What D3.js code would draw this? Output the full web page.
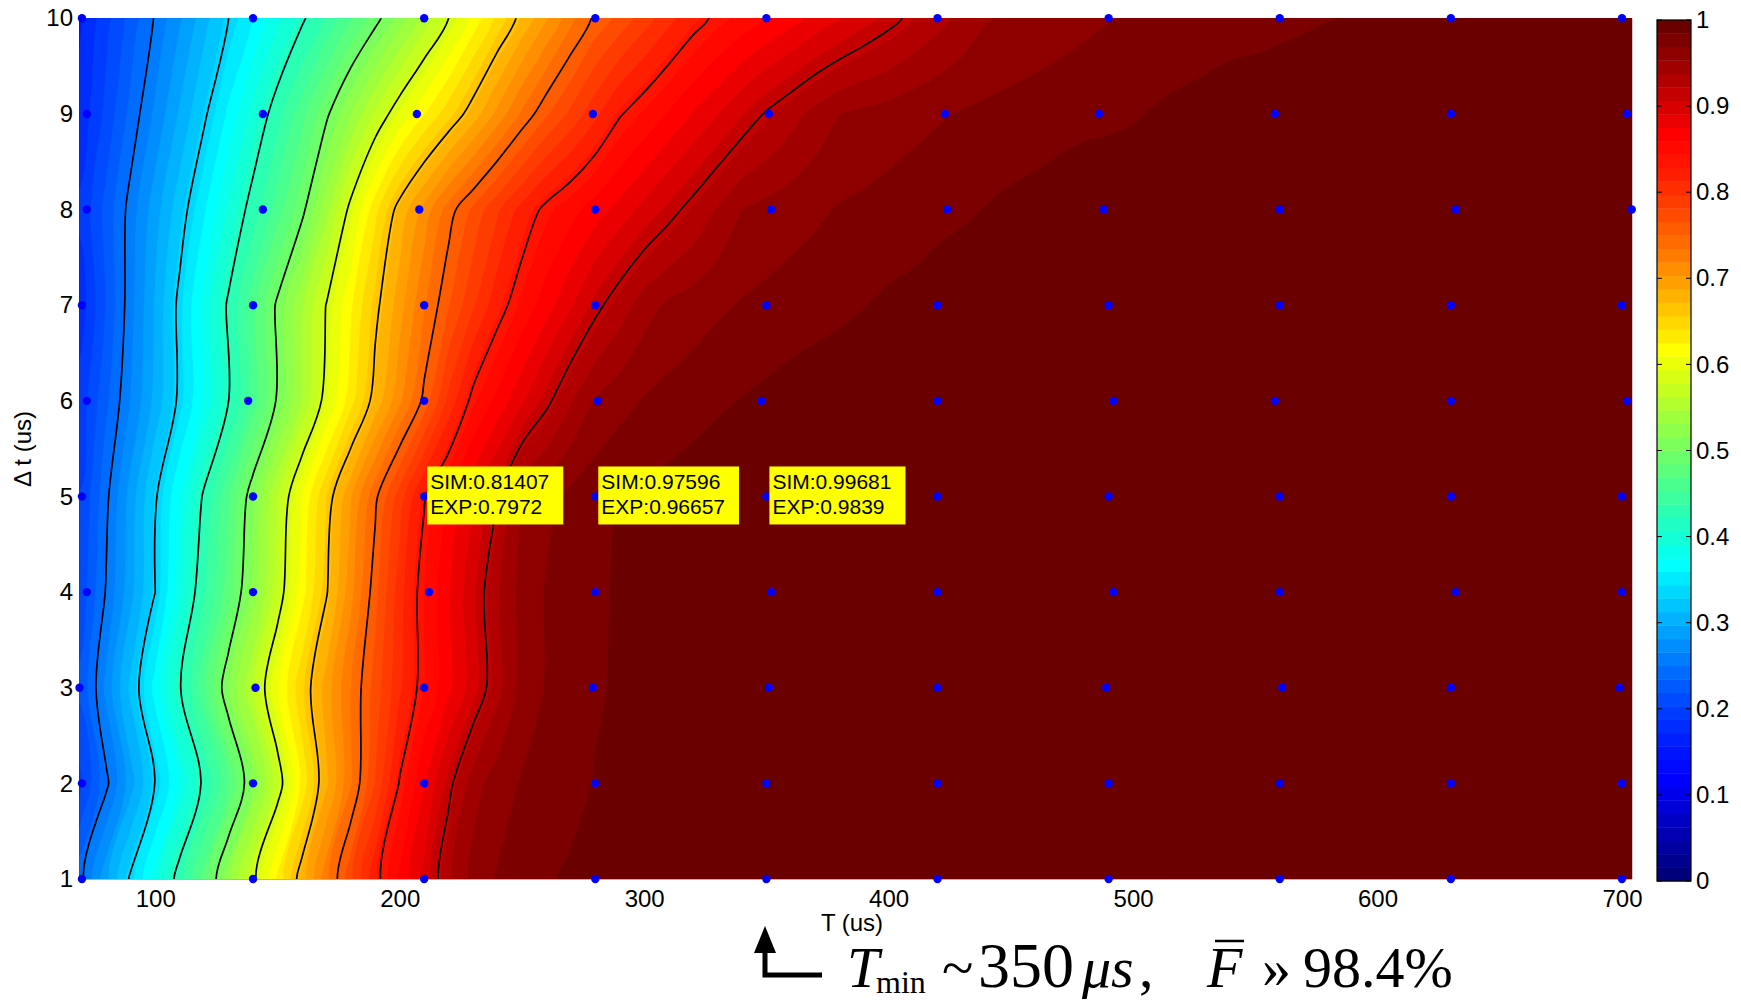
<!DOCTYPE html>
<html>
<head>
<meta charset="utf-8">
<script src="https://cdn.jsdelivr.net/npm/d3@7"></script>
<style>
  body { margin: 0; background: #fff; }
  svg { display: block; font-family: "Liberation Sans", Arial, Helvetica, sans-serif; }
</style>
</head>
<body>
<svg id="chart" width="1741" height="1002"></svg>
<script>
"use strict";

// T (us) columns of the fidelity map, one every 10 us
const T_GRID = [70, 80, 90, 100, 110, 120, 130, 140, 150, 160, 170, 180, 190, 200, 210, 220,
  230, 240, 250, 260, 270, 280, 290, 300, 310, 320, 330, 340, 350, 360, 370, 380,
  390, 400, 410, 420, 430, 440, 450, 460, 470, 480, 490, 500, 510, 520, 530, 540,
  550, 560, 570, 580, 590, 600, 610, 620, 630, 640, 650, 660, 670, 680, 690, 700];

// Δt (us) rows
const DT_GRID = [1, 2, 3, 4, 5, 6, 7, 8, 9, 10];

// fidelity, one list per Δt row (values at T_GRID)
const FID_DT1 = [.247, .292, .337, .382, .428, .476, .525, .577, .628, .678, .728, .777, .825, .862, .896, .933,
  .959, .970, .977, .983, .986, .989, .992, .995, .996, .997, .997, .998, .998, .999, .999, .999,
  .999, .999, .999, .999, .999, .999, .999, .999, .999, .999, .999, .999, .999, .999, .999, .999,
  .999, .999, .999, .999, .999, .999, .999, .999, .999, .999, .999, .999, .999, .999, .999, .999];
const FID_DT2 = [.202, .246, .290, .334, .378, .423, .469, .517, .571, .629, .684, .732, .782, .835, .873, .911,
  .946, .961, .970, .976, .981, .985, .988, .991, .994, .995, .996, .997, .997, .998, .999, .999,
  .999, .999, .999, .999, .999, .999, .999, .999, .999, .999, .999, .999, .999, .999, .999, .999,
  .999, .999, .999, .999, .999, .999, .999, .999, .999, .999, .999, .999, .999, .999, .999, .999];
const FID_DT3 = [.223, .270, .317, .366, .415, .464, .514, .561, .607, .652, .694, .734, .772, .809, .843, .871,
  .899, .932, .959, .970, .977, .983, .986, .990, .992, .995, .996, .996, .997, .998, .998, .999,
  .999, .999, .999, .999, .999, .999, .999, .999, .999, .999, .999, .999, .999, .999, .999, .999,
  .999, .999, .999, .999, .999, .999, .999, .999, .999, .999, .999, .999, .999, .999, .999, .999];
const FID_DT4 = [.211, .252, .292, .333, .387, .435, .477, .522, .571, .618, .665, .713, .760, .805, .844, .873,
  .902, .935, .959, .970, .976, .982, .986, .989, .991, .994, .995, .996, .997, .998, .998, .999,
  .999, .999, .999, .999, .999, .999, .999, .999, .999, .999, .999, .999, .999, .999, .999, .999,
  .999, .999, .999, .999, .999, .999, .999, .999, .999, .999, .999, .999, .999, .999, .999, .999];
const FID_DT5 = [.204, .246, .288, .330, .375, .421, .466, .512, .561, .609, .655, .701, .746, .789, .831, .860,
  .888, .916, .953, .964, .973, .979, .985, .987, .990, .993, .995, .996, .997, .997, .998, .998,
  .999, .999, .999, .999, .999, .999, .999, .999, .999, .999, .999, .999, .999, .999, .999, .999,
  .999, .999, .999, .999, .999, .999, .999, .999, .999, .999, .999, .999, .999, .999, .999, .999];
const FID_DT6 = [.195, .231, .266, .302, .338, .378, .417, .460, .503, .548, .592, .634, .676, .715, .755, .801,
  .840, .864, .888, .912, .936, .955, .963, .970, .974, .978, .982, .985, .988, .991, .994, .995,
  .996, .996, .997, .998, .998, .999, .999, .999, .999, .999, .999, .999, .999, .999, .999, .999,
  .999, .999, .999, .999, .999, .999, .999, .999, .999, .999, .999, .999, .999, .999, .999, .999];
const FID_DT7 = [.181, .220, .260, .299, .339, .380, .421, .463, .504, .544, .584, .622, .661, .696, .732, .764,
  .794, .823, .847, .868, .889, .911, .929, .946, .956, .961, .966, .970, .973, .976, .978, .981,
  .984, .987, .989, .992, .995, .996, .996, .997, .998, .998, .999, .999, .999, .999, .999, .999,
  .999, .999, .999, .999, .999, .999, .999, .999, .999, .999, .999, .999, .999, .999, .999, .999];
const FID_DT8 = [.191, .224, .257, .290, .322, .357, .393, .428, .461, .494, .541, .590, .635, .676, .709, .742,
  .769, .794, .818, .839, .853, .867, .881, .896, .910, .924, .939, .953, .958, .962, .966, .970,
  .972, .975, .977, .980, .982, .985, .988, .990, .993, .995, .996, .996, .997, .998, .998, .999,
  .999, .999, .999, .999, .999, .999, .999, .999, .999, .999, .999, .999, .999, .999, .999, .999];
const FID_DT9 = [.178, .208, .239, .269, .299, .329, .363, .396, .430, .463, .496, .531, .566, .597, .624, .650,
  .678, .708, .737, .763, .785, .808, .831, .846, .861, .876, .890, .905, .919, .931, .943, .953,
  .957, .960, .964, .967, .970, .972, .974, .976, .978, .980, .981, .983, .986, .989, .991, .994,
  .995, .996, .997, .997, .998, .999, .999, .999, .999, .999, .999, .999, .999, .999, .999, .999];
const FID_DT10 = [.171, .198, .225, .252, .279, .306, .333, .360, .386, .413, .440, .467, .493, .523, .553, .583,
  .614, .645, .674, .701, .729, .754, .771, .789, .807, .824, .838, .849, .859, .869, .880, .890,
  .901, .911, .922, .932, .942, .952, .956, .959, .962, .965, .968, .970, .972, .973, .975, .977,
  .978, .980, .982, .984, .986, .989, .992, .995, .995, .996, .997, .998, .998, .999, .999, .999];

// black iso-fidelity lines
const CONTOUR_LEVELS = [0.25, 0.333, 0.417, 0.5, 0.583, 0.667, 0.75, 0.833, 0.917];

// measured (T, Δt) points, T per Δt row
const SAMPLE_T = [
  [70, 140, 210, 280, 350, 420, 490, 560, 630, 700],
  [70, 140, 210, 280, 350, 420, 490, 560, 630, 700],
  [69, 141, 210, 279, 351, 420, 489, 561, 630, 699],
  [72, 140, 212, 280, 352, 420, 492, 560, 632, 700],
  [70, 140, 210, 280, 350, 420, 490, 560, 630, 700],
  [72, 138, 210, 281, 348, 420, 492, 558, 630, 702],
  [70, 140, 210, 280, 350, 420, 490, 560, 630, 700],
  [72, 144, 208, 280, 352, 424, 488, 560, 632, 704],
  [72, 144, 207, 279, 351, 423, 486, 558, 630, 702],
  [70, 140, 210, 280, 350, 420, 490, 560, 630, 700]
];

// data tips
const TIP_T = [210, 280, 350];
const TIP_DT = [5, 5, 5];
const TIP_SIM = ["0.81407", "0.97596", "0.99681"];
const TIP_EXP = ["0.7972", "0.96657", "0.9839"];

const X_TICKS = [100, 200, 300, 400, 500, 600, 700];
const Y_TICKS = [1, 2, 3, 4, 5, 6, 7, 8, 9, 10];
const CBAR_TICKS = [0, 0.1, 0.2, 0.3, 0.4, 0.5, 0.6, 0.7, 0.8, 0.9, 1];

// MATLAB jet(64), slightly darkened like the printed figure
function jet64(i) {
    var r = i <= 24 ? 0 : i <= 40 ? (i - 24) / 16 : i <= 56 ? 1 : (72 - i) / 16;
    var g = i <= 8 ? 0 : i <= 24 ? (i - 8) / 16 : i <= 40 ? 1 : i <= 55 ? (56 - i) / 16 : 0;
    var b = i <= 8 ? (8 + i) / 16 : i <= 24 ? 1 : i <= 39 ? (40 - i) / 16 : 0;
    var f = function(c) { return Math.round(255 * Math.pow(c, 1.25)); };
    return d3.rgb(f(r), f(g), f(b)).formatHex();
}
const CMAP = d3.range(1, 65).map(jet64);
function bandColor(v) {
    return CMAP[Math.max(0, Math.min(63, Math.floor(v * 64 + 1e-9)))];
}

const PLOT = {left: 79.5, right: 1632, top: 18.3, bottom: 879};
const x = d3.scaleLinear().domain([69, 704.1]).range([PLOT.left, PLOT.right]);
const y = d3.scaleLinear().domain([1, 10]).range([PLOT.bottom, PLOT.top]);

const svg = d3.select('#chart');

svg.append('defs').append('clipPath')
    .attr('id', 'plot-clip')
  .append('rect')
    .attr('x', PLOT.left)
    .attr('y', PLOT.top)
    .attr('width', PLOT.right - PLOT.left)
    .attr('height', PLOT.bottom - PLOT.top);

// grid -> screen: sample i sits at contour coordinate i + 0.5
const nx = T_GRID.length, ny = DT_GRID.length;
const stepT = T_GRID[1] - T_GRID[0], stepDt = DT_GRID[1] - DT_GRID[0];
function toPx(p) {
    return [x(T_GRID[0] + (p[0] - 0.5) * stepT), y(DT_GRID[0] + (p[1] - 0.5) * stepDt)];
}
function openRing(ring) {
    var a = ring[0], b = ring[ring.length - 1];
    return (a[0] === b[0] && a[1] === b[1]) ? ring.slice(0, -1) : ring.slice();
}
function onBorder(p) {
    return p[0] <= 0 || p[0] >= nx || p[1] <= 0 || p[1] >= ny;
}

const closedCurve = d3.line().curve(d3.curveCatmullRomClosed.alpha(0.5));
const openCurve = d3.line().curve(d3.curveCatmullRom.alpha(0.5));

// filled area of a contour, rings smoothed
function areaPath(geom) {
    var d = '';
    geom.coordinates.forEach(function(polygon) {
        polygon.forEach(function(ring) {
            d += closedCurve(openRing(ring).map(toPx));
        });
    });
    return d;
}

// the iso line only: drop the parts that run along the grid border
function linePath(geom) {
    var d = '';
    geom.coordinates.forEach(function(polygon) {
        polygon.forEach(function(ring) {
            var pts = openRing(ring);
            var start = pts.findIndex(onBorder);
            if (start < 0) { d += closedCurve(pts.map(toPx)); return; }
            var run = null;
            for (var k = 0; k <= pts.length; k++) {
                var p = pts[(start + k) % pts.length];
                if (onBorder(p)) {
                    if (run) {
                        run.push(p);
                        if (run.length > 2) d += openCurve(run.map(toPx));
                    }
                    run = [p];
                } else {
                    run.push(p);
                }
            }
        });
    });
    return d;
}

const field = [FID_DT1, FID_DT2, FID_DT3, FID_DT4, FID_DT5,
               FID_DT6, FID_DT7, FID_DT8, FID_DT9, FID_DT10];
const values = [].concat.apply([], field);

const plot = svg.append('g').attr('clip-path', 'url(#plot-clip)');

// colour bands, one per colormap entry
const bands = d3.contours()
    .size([nx, ny])
    .thresholds(d3.range(64).map(function(k) { return k / 64; }))(values);

plot.selectAll('path.band')
    .data(bands)
  .join('path')
    .attr('class', 'band')
    .attr('d', areaPath)
    .attr('fill', function(d) { return bandColor(d.value); })
    .attr('stroke', function(d) { return bandColor(d.value); })
    .attr('stroke-width', 0.6);

// iso lines
const isolines = d3.contours().size([nx, ny]).thresholds(CONTOUR_LEVELS)(values);
plot.selectAll('path.iso')
    .data(isolines)
  .join('path')
    .attr('class', 'iso')
    .attr('d', linePath)
    .attr('fill', 'none')
    .attr('stroke', '#000')
    .attr('stroke-width', 1.7)
    .attr('stroke-linejoin', 'round');

// faint axes box edges
svg.append('line')
    .attr('x1', PLOT.left).attr('x2', PLOT.right)
    .attr('y1', PLOT.bottom + 0.5).attr('y2', PLOT.bottom + 0.5)
    .attr('stroke', '#b4b4b4');
svg.append('line')
    .attr('x1', PLOT.right + 0.5).attr('x2', PLOT.right + 0.5)
    .attr('y1', PLOT.top).attr('y2', PLOT.bottom)
    .attr('stroke', '#d8c4c4');

// sample points
const samples = [];
SAMPLE_T.forEach(function(row, j) {
    row.forEach(function(t) { samples.push({t: t, dt: DT_GRID[j]}); });
});
svg.append('g').selectAll('circle')
    .data(samples)
  .join('circle')
    .attr('cx', function(d) { return x(d.t); })
    .attr('cy', function(d) { return y(d.dt); })
    .attr('r', 4.2)
    .attr('fill', '#0000ff');

// data tips
const tips = svg.append('g').attr('font-size', 21);
TIP_T.forEach(function(t, i) {
    var g = tips.append('g')
        .attr('transform', 'translate(' + (x(t) + 3) + ',' + (y(TIP_DT[i]) - 30) + ')');
    var box = g.append('rect').attr('height', 58).attr('fill', '#ffff00');
    var l1 = g.append('text').attr('x', 3).attr('y', 23).text('SIM:' + TIP_SIM[i]);
    var l2 = g.append('text').attr('x', 3).attr('y', 48).text('EXP:' + TIP_EXP[i]);
    var w = Math.max(l1.node().getComputedTextLength(), l2.node().getComputedTextLength());
    box.attr('width', w + 17);
});

// axes
const xAxis = svg.append('g')
    .attr('transform', 'translate(0,' + PLOT.bottom + ')')
    .call(d3.axisBottom(x).tickValues(X_TICKS).tickSize(0).tickPadding(11));
const yAxis = svg.append('g')
    .attr('transform', 'translate(' + PLOT.left + ',0)')
    .call(d3.axisLeft(y).tickValues(Y_TICKS).tickSize(0).tickPadding(6.5));
[xAxis, yAxis].forEach(function(a) {
    a.select('.domain').remove();
    a.selectAll('text')
        .attr('font-family', '"Liberation Sans", Arial, sans-serif')
        .attr('font-size', 24)
        .attr('fill', '#000');
});

svg.append('text')
    .attr('x', 852).attr('y', 931)
    .attr('text-anchor', 'middle')
    .attr('font-size', 24)
    .text('T (us)');

svg.append('text')
    .attr('transform', 'translate(31,449) rotate(-90)')
    .attr('text-anchor', 'middle')
    .attr('font-size', 24)
    .text('Δ t (us)');

// colorbar
const CB = {left: 1657, right: 1691, top: 20, bottom: 881};
const c = d3.scaleLinear().domain([0, 1]).range([CB.bottom, CB.top]);
svg.append('g').selectAll('rect')
    .data(CMAP)
  .join('rect')
    .attr('x', CB.left)
    .attr('width', CB.right - CB.left)
    .attr('y', function(d, k) { return c((k + 1) / 64); })
    .attr('height', function(d, k) { return c(k / 64) - c((k + 1) / 64) + 0.4; })
    .attr('fill', function(d) { return d; });
svg.append('rect')
    .attr('x', CB.left).attr('y', CB.top)
    .attr('width', CB.right - CB.left).attr('height', CB.bottom - CB.top)
    .attr('fill', 'none').attr('stroke', '#000').attr('stroke-width', 1.2);
const cbTicks = svg.append('g');
CBAR_TICKS.forEach(function(v) {
    cbTicks.append('line')
        .attr('x1', CB.left).attr('x2', CB.left + 5)
        .attr('y1', c(v)).attr('y2', c(v)).attr('stroke', '#000');
    cbTicks.append('line')
        .attr('x1', CB.right - 5).attr('x2', CB.right)
        .attr('y1', c(v)).attr('y2', c(v)).attr('stroke', '#000');
});
const cAxis = svg.append('g')
    .attr('transform', 'translate(' + CB.right + ',0)')
    .call(d3.axisRight(c).tickValues(CBAR_TICKS).tickSize(0).tickPadding(5)
          .tickFormat(function(d) { return String(d); }));
cAxis.select('.domain').remove();
cAxis.selectAll('text')
    .attr('font-family', '"Liberation Sans", Arial, sans-serif')
    .attr('font-size', 24)
    .attr('fill', '#000');

// result line under the axis
const note = svg.append('g')
    .attr('font-family', '"Liberation Serif", "Times New Roman", serif')
    .attr('font-size', 58)
    .attr('fill', '#000');
note.append('text').attr('x', 847).attr('y', 987).attr('font-style', 'italic').text('T');
note.append('text').attr('x', 876).attr('y', 993).attr('font-size', 32).text('min');
note.append('text').attr('x', 942).attr('y', 987).text('~');
note.append('text').attr('x', 978).attr('y', 987).attr('font-size', 64).text('350');
note.append('text').attr('x', 1082).attr('y', 987).attr('font-style', 'italic').text('μs');
note.append('text').attr('x', 1139).attr('y', 987).text(',');
note.append('text').attr('x', 1207).attr('y', 987).attr('font-style', 'italic').text('F');
note.append('line')
    .attr('x1', 1215).attr('x2', 1244).attr('y1', 941).attr('y2', 941)
    .attr('stroke', '#000').attr('stroke-width', 2.5);
note.append('text').attr('x', 1262).attr('y', 987).text('»');
note.append('text').attr('x', 1303).attr('y', 987).text('98.4%');

// arrow pointing at T = 350
const arrow = svg.append('g');
arrow.append('path')
    .attr('d', 'M765,950 L765,975 L822,975')
    .attr('fill', 'none')
    .attr('stroke', '#000')
    .attr('stroke-width', 5);
arrow.append('path')
    .attr('d', 'M765,926 L776,953 L754,953 Z')
    .attr('fill', '#000');
</script>
</body>
</html>
